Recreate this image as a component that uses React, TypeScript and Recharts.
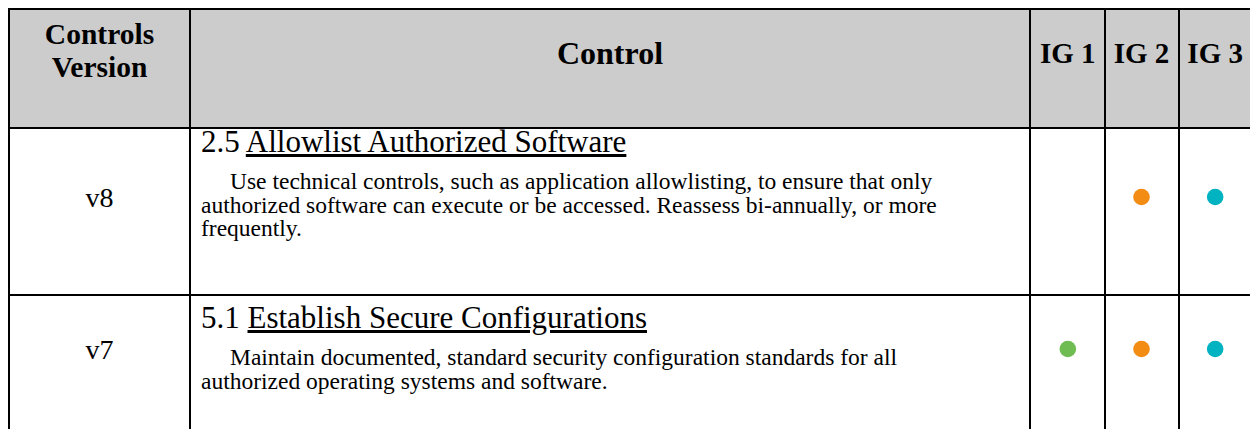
import React from 'react'
import { ScatterChart, Scatter, XAxis, YAxis } from 'recharts'

const versions = ['v8', 'v7']
const controlIds = ['2.5', '5.1']
const controlTitles = ['Allowlist Authorized Software', 'Establish Secure Configurations']
const controlDescriptions = [
    [
        'Use technical controls, such as application allowlisting, to ensure that only',
        'authorized software can execute or be accessed. Reassess bi-annually, or more',
        'frequently.',
    ],
    [
        'Maintain documented, standard security configuration standards for all',
        'authorized operating systems and software.',
    ],
]
const igLabels = ['IG 1', 'IG 2', 'IG 3']
const igColors = ['#6fbc52', '#f28c13', '#01b2c1']
// which implementation groups each control belongs to (rows follow versions)
const igMembership = [
    [false, true, true],
    [true, true, true],
]

const FONT = '"Liberation Serif", "Times New Roman", serif'
const colWidths = [179, 838, 73, 72, 72]
const rowHeights = [117, 165, 165]
const textTop = [-3, 6]

const points = versions.flatMap((version, r) =>
    igLabels.flatMap((ig, c) =>
        igMembership[r][c] ? [{ col: c + 1, row: r + 1, version, ig, color: igColors[c] }] : []
    )
)

const renderDot = (props: any) => (
    <circle cx={props.cx} cy={props.cy} r={8.3} fill={props.payload.color} />
)

const renderVersionTick = (props: any) => (
    <text
        x={props.x}
        y={props.y}
        dy="0.355em"
        textAnchor="middle"
        fontFamily={FONT}
        fontSize={28}
        fill="#000"
    >
        {versions[props.payload.value - 1]}
    </text>
)

export default function App() {
    const headerCell = { background: '#cccccc', fontWeight: 700, textAlign: 'center' as const }
    const bodyCell = { background: '#ffffff', position: 'relative' as const }

    // fixed frame so the clipped table never makes the page scroll
    return (
        <div style={{ position: 'fixed', left: 0, top: 0, width: 1250, height: 429, overflow: 'hidden', background: '#fff', fontFamily: FONT, color: '#000' }}>
            <div
                style={{
                    position: 'absolute',
                    left: 8,
                    top: 8,
                    display: 'grid',
                    gridTemplateColumns: colWidths.map(w => w + 'px').join(' '),
                    gridTemplateRows: rowHeights.map(h => h + 'px').join(' '),
                    gap: 2,
                    padding: 2,
                    background: '#000',
                }}
            >
                <div style={{ ...headerCell, fontSize: 29.5, lineHeight: '33px', paddingTop: 8 }}>Controls<br />Version</div>
                <div style={{ ...headerCell, fontSize: 32, lineHeight: '29px', paddingTop: 28.7 }}>Control</div>
                {igLabels.map(ig => <div key={ig} style={headerCell} />)}

                {versions.map((version, r) => (
                    <React.Fragment key={version}>
                        <div style={bodyCell} />
                        <div style={bodyCell}>
                            <div style={{ position: 'absolute', left: 10, top: textTop[r], fontSize: 31, lineHeight: '31px', whiteSpace: 'nowrap' }}>
                                {controlIds[r]} <span style={{ textDecoration: 'underline' }}>{controlTitles[r]}</span>
                            </div>
                            <div style={{ position: 'absolute', left: 10, top: textTop[r] + 44, fontSize: 23.5, lineHeight: '23.5px', whiteSpace: 'nowrap' }}>
                                {controlDescriptions[r].map((line, i) => (
                                    <div key={i} style={{ paddingLeft: i === 0 ? 29 : 0 }}>{line}</div>
                                ))}
                            </div>
                        </div>
                        {igLabels.map(ig => <div key={ig} style={bodyCell} />)}
                    </React.Fragment>
                ))}
            </div>

            <div style={{ position: 'absolute', left: 8, top: 8 }}>
                <ScatterChart width={1244} height={417} margin={{ top: 0, right: 0, bottom: 0, left: 0 }}>
                    <XAxis
                        type="number"
                        dataKey="col"
                        orientation="top"
                        domain={[0.5, 3.5]}
                        ticks={[1, 2, 3]}
                        allowDataOverflow
                        interval={0}
                        height={113}
                        tickSize={0}
                        tickMargin={58}
                        axisLine={false}
                        tickLine={false}
                        tickFormatter={(v: number) => igLabels[v - 1]}
                        tick={{ fontFamily: FONT, fontSize: 29, fontWeight: 700, fill: '#000' }}
                    />
                    <YAxis
                        type="number"
                        dataKey="row"
                        domain={[0.5, 2.5]}
                        reversed
                        ticks={[1, 2]}
                        allowDataOverflow
                        interval={0}
                        width={1023}
                        tickSize={0}
                        tickMargin={931.5}
                        axisLine={false}
                        tickLine={false}
                        tick={renderVersionTick}
                    />
                    <Scatter data={points} isAnimationActive={false} shape={renderDot} />
                </ScatterChart>
            </div>
        </div>
    )
}
